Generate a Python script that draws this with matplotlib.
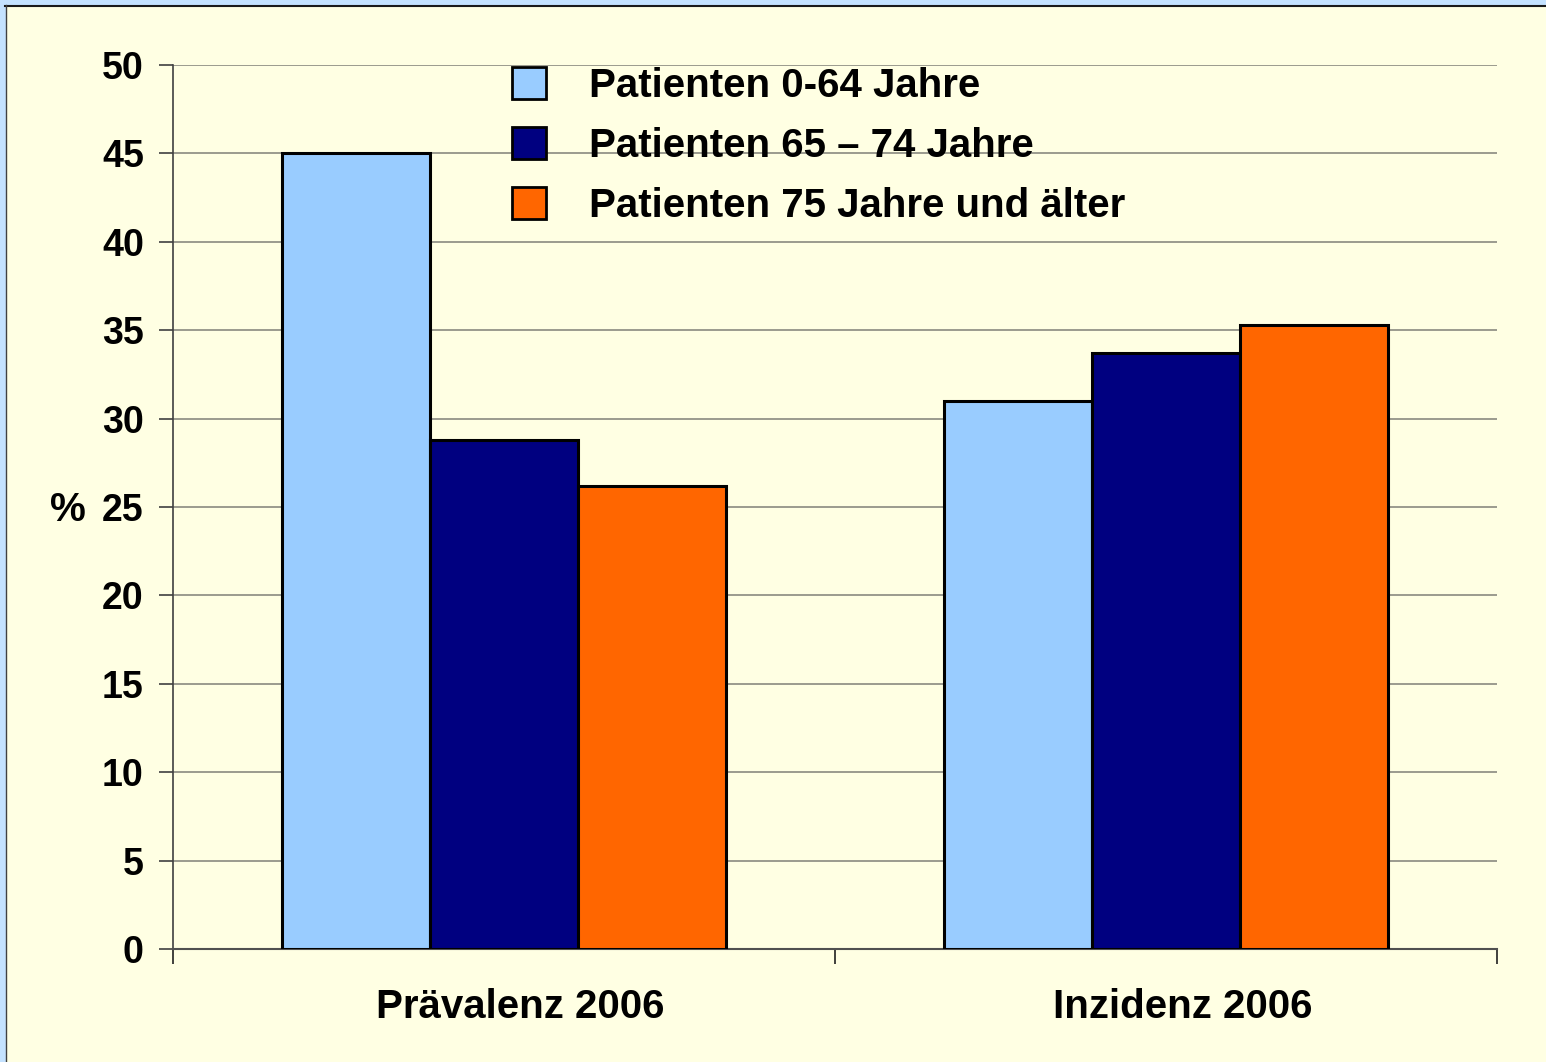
import numpy as np
import matplotlib
matplotlib.use("Agg")
import matplotlib.pyplot as plt
from matplotlib.patches import Rectangle
from matplotlib.lines import Line2D

categories = ["Prävalenz 2006", "Inzidenz 2006"]
series_labels = ["Patienten 0-64 Jahre", "Patienten 65 – 74 Jahre", "Patienten 75 Jahre und älter"]
young = [45.0, 31.0]
middle = [28.8, 33.7]
old = [26.2, 35.3]
y_ticks = [0, 5, 10, 15, 20, 25, 30, 35, 40, 45, 50]

colors = ["#99CCFF", "#000080", "#FF6600"]
bg = "#FFFFE3"

plt.rcParams["font.family"] = ["Liberation Sans", "DejaVu Sans"]
plt.rcParams["font.weight"] = "bold"

fig = plt.figure(figsize=(15.46, 10.62), dpi=100, facecolor=bg)
ax = fig.add_axes([173 / 1546, 1 - 949 / 1062, (1497 - 173) / 1546, (949 - 65) / 1062])
ax.set_facecolor(bg)

x = np.arange(len(categories))
w = 0.2236
for i, (vals, col, lab) in enumerate(zip([young, middle, old], colors, series_labels)):
    ax.bar(x + (i - 1) * w, vals, width=w, color=col, edgecolor="black",
           linewidth=2.2, label=lab, zorder=3)

ax.set_xlim(-0.5, 1.5)
ax.set_ylim(0, 50)
ax.set_yticks(y_ticks)
ax.yaxis.grid(True, color="#8a8a80", linewidth=1.2, zorder=0)
ax.set_axisbelow(True)
ax.tick_params(axis="y", labelsize=27, length=10, width=1.2, direction="out",
               color="#404040", pad=11)
for t in ax.get_yticklabels():
    t.set_fontweight("bold")

ax.set_xticks([-0.5, 0.5, 1.5])
ax.set_xticklabels([])
ax.tick_params(axis="x", which="major", length=11, width=1.2, direction="out", color="#202020")
ax.set_xticks(x + 0.025, minor=True)
ax.set_xticklabels(categories, minor=True, fontsize=29, fontweight="bold")
ax.tick_params(axis="x", which="minor", length=0, pad=28)

for s in ["top", "right"]:
    ax.spines[s].set_visible(False)
ax.spines["left"].set_color("#404040")
ax.spines["left"].set_linewidth(1.2)
ax.spines["bottom"].set_color("#505050")
ax.spines["bottom"].set_linewidth(1.5)

fig.text(68 / 1546, 1 - 510 / 1062, "%", fontsize=29, fontweight="bold",
         ha="center", va="center")

leg = ax.legend(loc="upper left", bbox_to_anchor=((496 - 173) / (1497 - 173), 1.016),
                frameon=False, fontsize=29, handlelength=0.85, handleheight=0.85,
                handletextpad=1.05, labelspacing=0.55, borderaxespad=0)
for t in leg.get_texts():
    t.set_fontweight("bold")
for p in leg.get_patches():
    p.set_linewidth(2)

# outer slide frame (top and left)
fig.patches.append(Rectangle((0, 1 - 5 / 1062), 1, 5 / 1062, transform=fig.transFigure,
                             color="#C4E2FF", zorder=0))
fig.patches.append(Rectangle((0, 0), 5 / 1546, 1, transform=fig.transFigure,
                             color="#C4E2FF", zorder=0))
fig.lines.append(Line2D([5 / 1546, 1], [1 - 5.5 / 1062, 1 - 5.5 / 1062],
                        transform=fig.transFigure, color="#1a1a1a", linewidth=1.5))
fig.lines.append(Line2D([5.5 / 1546, 5.5 / 1546], [0, 1 - 5 / 1062],
                        transform=fig.transFigure, color="#404040", linewidth=1))

fig.savefig("out.png", dpi=100, facecolor=bg)
